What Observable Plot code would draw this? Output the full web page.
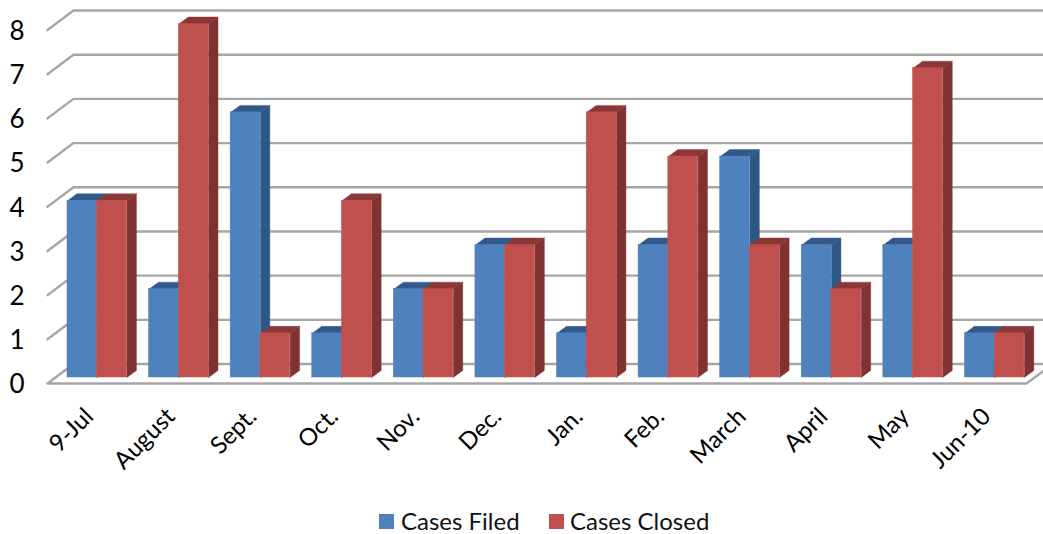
<!DOCTYPE html>
<html><head><meta charset="utf-8">
<script src="https://cdn.jsdelivr.net/npm/d3@7"></script>
<script src="https://cdn.jsdelivr.net/npm/@observablehq/plot@0.6"></script>
<style>
html,body{margin:0;padding:0;background:#fff;overflow:hidden;width:1043px;height:534px}
#legend{position:relative;height:34px;font:24px Lato,sans-serif;color:#111}
#legend span{position:absolute;white-space:nowrap}
#legend i{position:absolute;width:15px;height:15px;top:14px}
</style></head><body>
<div id="chart"></div>
<div id="legend"></div>
<script>
const categories = ["9-Jul","August","Sept.","Oct.","Nov.","Dec.","Jan.","Feb.","March","April","May","Jun-10"];
const casesFiled  = [4,2,6,1,2,3,1,3,5,3,3,1];
const casesClosed = [4,8,1,4,2,3,6,5,3,2,7,1];
const yTicks = [0,1,2,3,4,5,6,7,8];

// Pseudo-3D box geometry, in scale units
const wallDx = 0.3186, wallDy = 0.441;
const barGap = 0.245, barW = 0.3646, baseY = 0.136;
const depthDx = 0.116, depthDy = 0.158;

const colors = {
  filed:  {front:"#4f81bd", top:"#31598c", side:"#2f5783"},
  closed: {front:"#c0504d", top:"#8a3735", side:"#7f3230"}
};

function boxes(values, offset){
  return values.map((v,i)=>{
    const x1 = i + barGap + offset*barW, x2 = x1 + barW, y1 = baseY, y2 = baseY + v;
    return {i, x1, x2, y1, y2};
  });
}
const polyTop = b => [[b.x1,b.y2],[b.x2,b.y2],[b.x2+depthDx,b.y2+depthDy],[b.x1+depthDx,b.y2+depthDy],[b.x1,b.y2]]
  .map(([x,y])=>({x,y,z:b.i}));
const polySide = b => [[b.x2,b.y1],[b.x2+depthDx,b.y1+depthDy],[b.x2+depthDx,b.y2+depthDy],[b.x2,b.y2],[b.x2,b.y1]]
  .map(([x,y])=>({x,y,z:b.i}));

function series(values, offset, c){
  const bs = boxes(values, offset);
  return [
    Plot.line(bs.flatMap(polySide),{x:"x",y:"y",z:"z",fill:c.side,stroke:c.side,strokeWidth:0.4,curve:"linear"}),
    Plot.line(bs.flatMap(polyTop),{x:"x",y:"y",z:"z",fill:c.top,stroke:c.top,strokeWidth:0.4,curve:"linear"}),
    Plot.rect(bs,{x1:"x1",x2:"x2",y1:"y1",y2:"y2",fill:c.front,stroke:c.front,strokeWidth:0.5})
  ];
}

const gridPts = yTicks.filter(v=>v>0).flatMap(v=>[
  {x:0,y:v,z:v},{x:wallDx,y:v+wallDy,z:v},{x:12+wallDx,y:v+wallDy,z:v}
]);
const floorPts = [[0,0],[wallDx,wallDy],[12+wallDx,wallDy],[12,0],[0,0]].map(([x,y])=>({x,y}));

const plot = Plot.plot({
  width:1043, height:500,
  marginLeft:47, marginRight:17, marginTop:29.5, marginBottom:117,
  style:{fontFamily:"Lato, sans-serif",fontSize:"23px",color:"#000",overflow:"hidden"},
  x:{domain:[0,12]},
  y:{domain:[0,8]},
  marks:[
    Plot.line(gridPts,{x:"x",y:"y",z:"z",stroke:"#a6a6a6",strokeWidth:2.4,curve:"linear"}),
    Plot.line(floorPts,{x:"x",y:"y",stroke:"#a6a6a6",strokeWidth:2.4,curve:"linear"}),
    ...series(casesFiled,0,colors.filed),
    ...series(casesClosed,1,colors.closed),
    Plot.axisY({ticks:yTicks,tickSize:0,tickPadding:23,label:null,tickFormat:d=>String(d),fill:"#000",fontSize:26,dy:1.5}),
    Plot.axisX({ticks:categories.map((_,i)=>i+0.5),tickFormat:d=>categories[d-0.5],tickSize:0,tickPadding:29,tickRotate:-45,label:null,fill:"#000",fontSize:24,dx:1})
  ]
});
document.getElementById("chart").appendChild(plot);

const legendItems = [["Cases Filed",colors.filed.front,379,401],["Cases Closed",colors.closed.front,549,570]];
const lg = document.getElementById("legend");
for (const [t,c,sx,tx] of legendItems){
  const i=document.createElement("i"); i.style.left=sx+"px"; i.style.background=c; lg.appendChild(i);
  const s=document.createElement("span"); s.textContent=t; s.style.left=tx+"px"; s.style.top="6px"; lg.appendChild(s);
}
</script></body></html>
